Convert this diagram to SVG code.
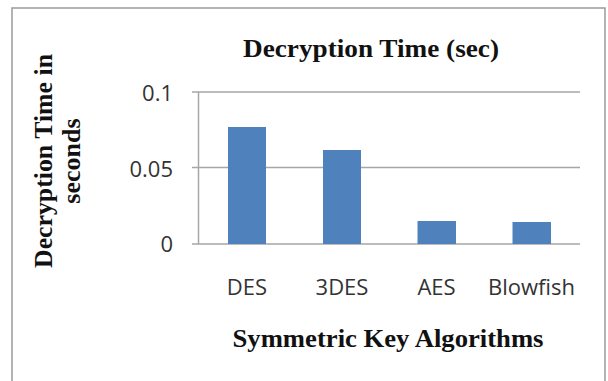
<svg xmlns="http://www.w3.org/2000/svg" width="608" height="381" viewBox="0 0 608 381">
<style>
.grid{stroke:#a6a6a6;stroke-width:1.5;fill:none}
.bar{fill:#4f81bd}
.tick{font-family:"Open Sans","Liberation Sans",sans-serif;font-size:22px;fill:#333}
.ttl{font-family:"Liberation Serif","Times New Roman",serif;font-weight:bold;font-size:26px;fill:#111}
</style>
<rect x="0" y="0" width="608" height="381" fill="#fff"/>
<path d="M12,390 V8 H605 V390" fill="none" stroke="#9a9a9a" stroke-width="1.5"/>
<g id="title"><text class="ttl" x="371" y="57" text-anchor="middle" font-size="27" textLength="256" lengthAdjust="spacingAndGlyphs">Decryption Time (sec)</text></g>
<g id="axes">
<path class="grid" d="M192,92 H580 M192,167.5 H580 M192,244 H580 M198.5,92 V244"/>
<text class="tick" x="173" y="100.5" text-anchor="end">0.1</text>
<text class="tick" x="173" y="176.5" text-anchor="end">0.05</text>
<text class="tick" x="173" y="252" text-anchor="end">0</text>
</g>
<g id="bars">
<rect class="bar" x="228" y="127" width="38" height="117"/>
<rect class="bar" x="323" y="150" width="38" height="94"/>
<rect class="bar" x="417.5" y="221" width="38.5" height="23"/>
<rect class="bar" x="512.5" y="222" width="38.5" height="22"/>
</g>
<g id="categories">
<text class="tick" x="247" y="295" text-anchor="middle">DES</text>
<text class="tick" x="342" y="295" text-anchor="middle">3DES</text>
<text class="tick" x="436.5" y="295" text-anchor="middle">AES</text>
<text class="tick" x="531.5" y="295" text-anchor="middle">Blowfish</text>
</g>
<g id="xlabel"><text class="ttl" x="388" y="347" text-anchor="middle" textLength="311" lengthAdjust="spacingAndGlyphs">Symmetric Key Algorithms</text></g>
<g id="ylabel">
<text class="ttl" transform="translate(52,161) rotate(-90)" x="0" y="0" text-anchor="middle" textLength="214" lengthAdjust="spacingAndGlyphs">Decryption Time in</text>
<text class="ttl" transform="translate(80,161) rotate(-90)" x="0" y="0" text-anchor="middle">seconds</text>
</g>
</svg>
